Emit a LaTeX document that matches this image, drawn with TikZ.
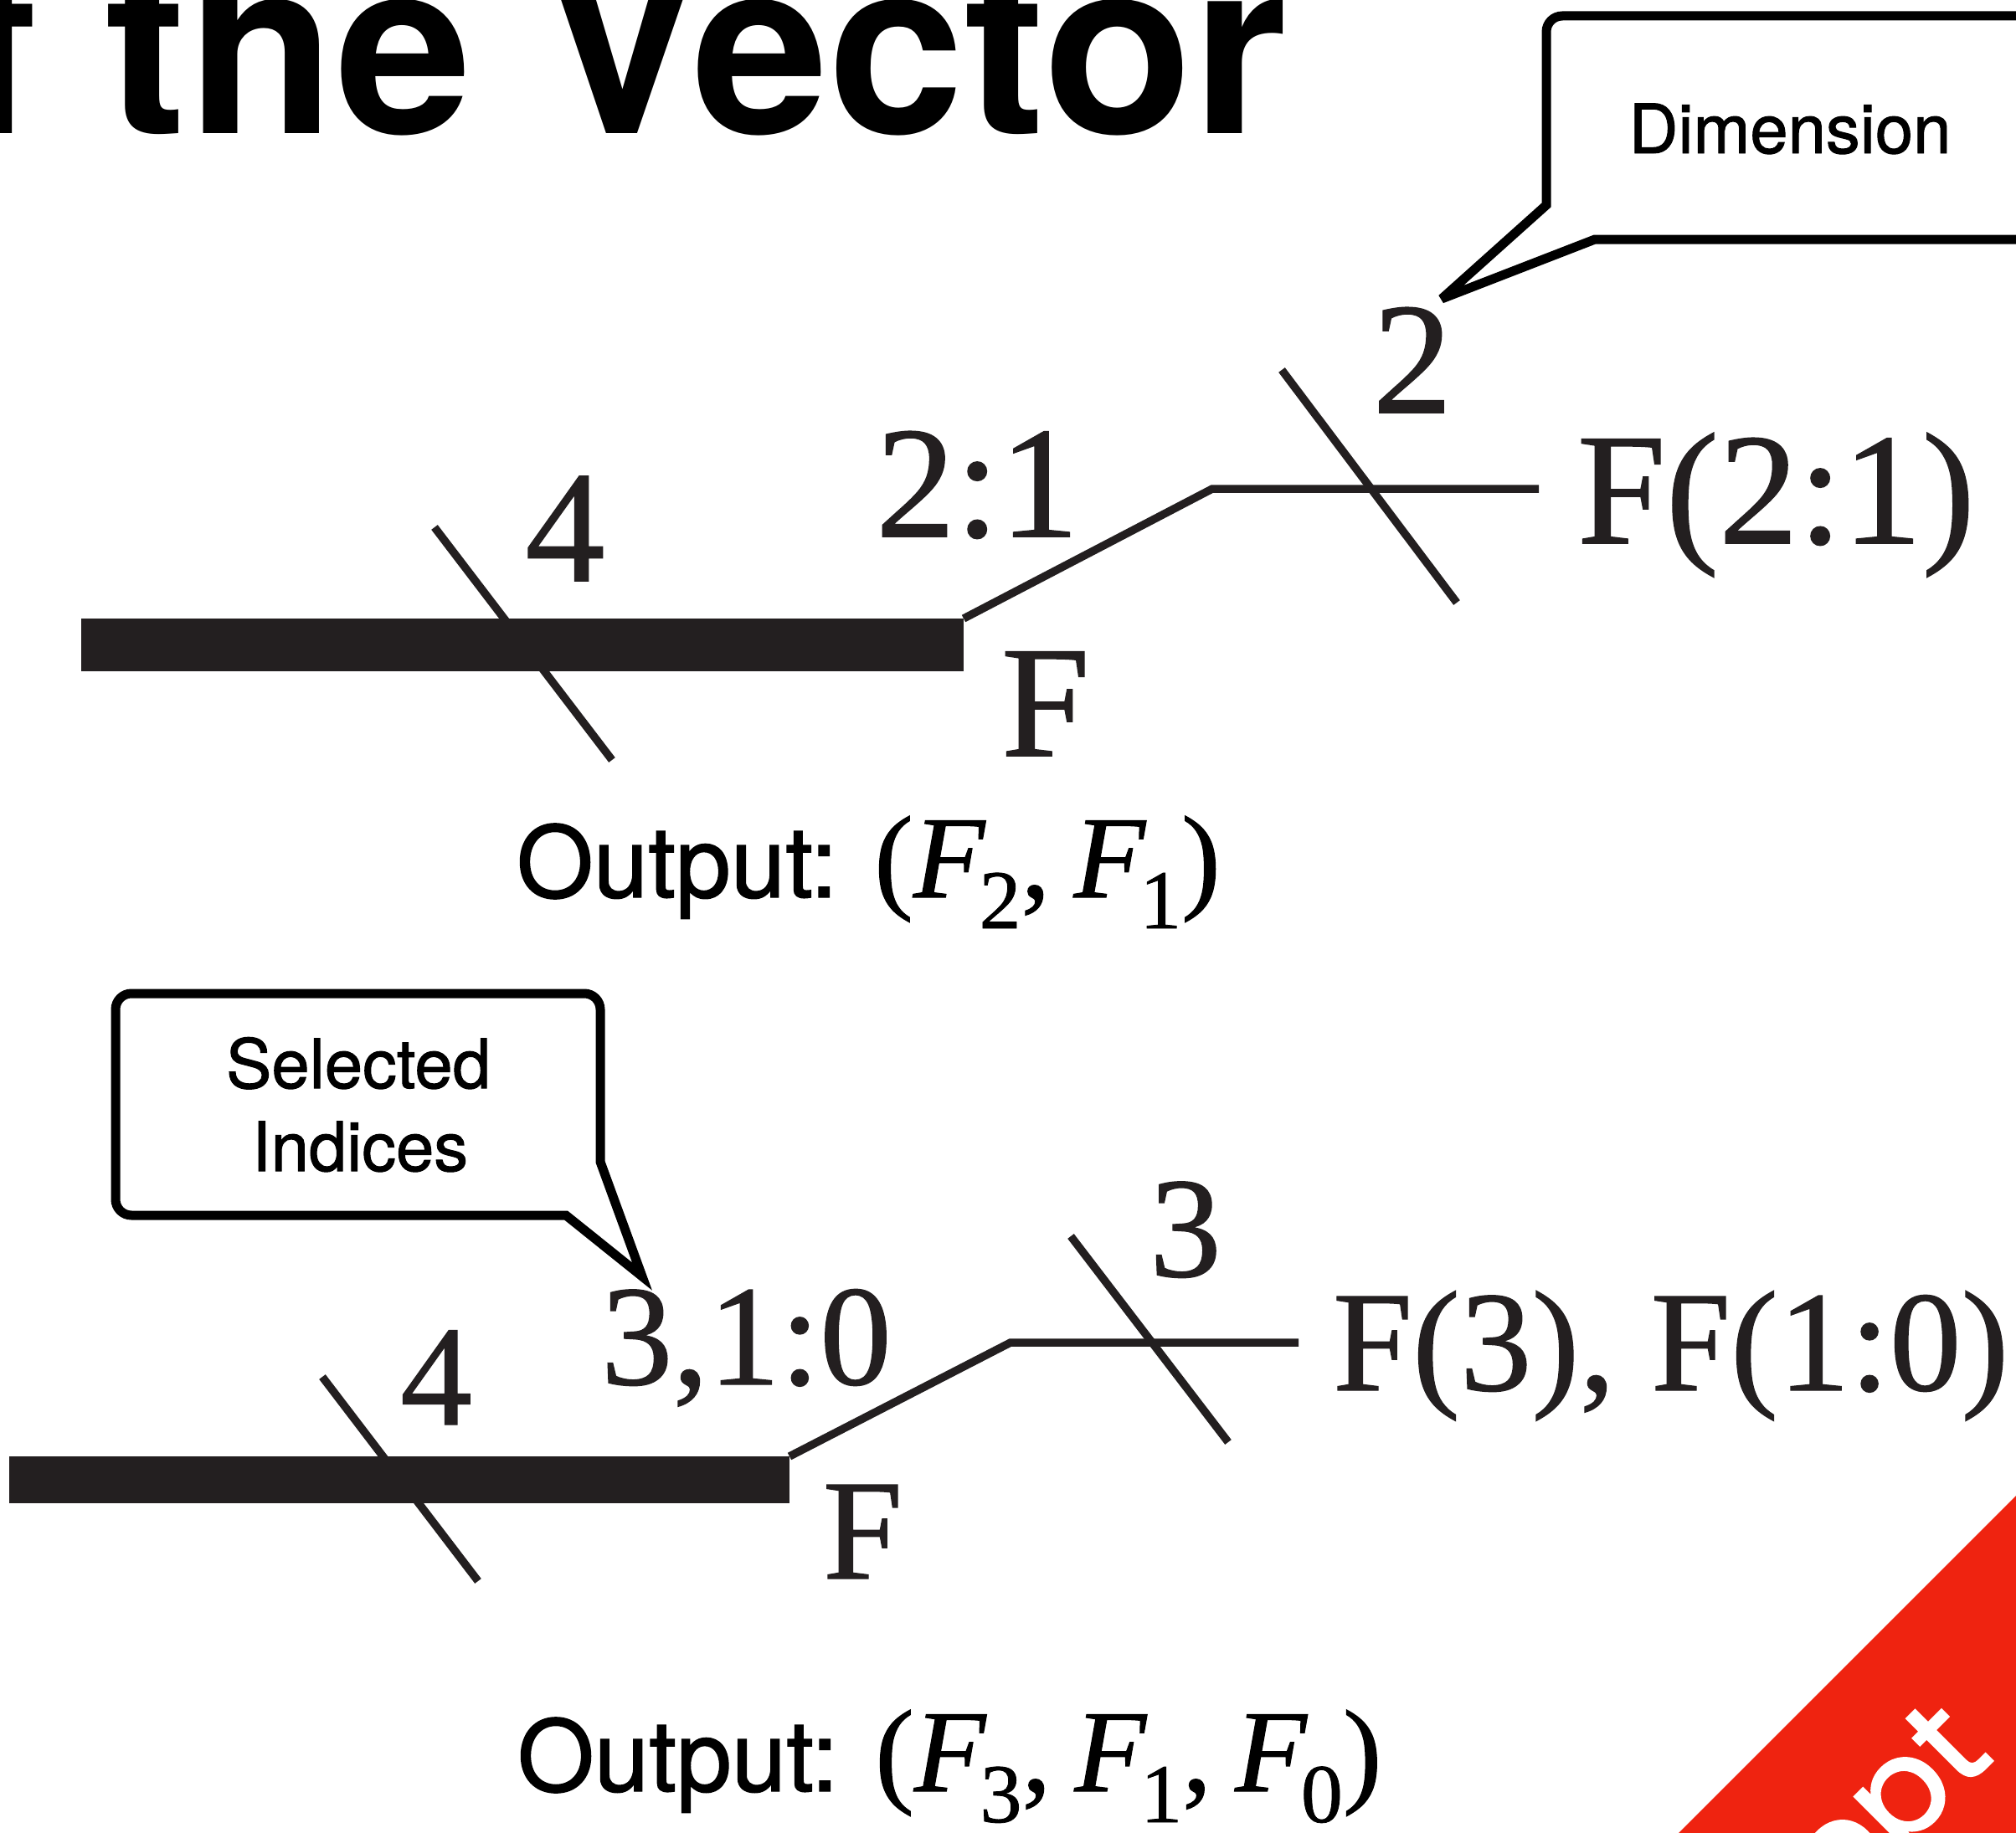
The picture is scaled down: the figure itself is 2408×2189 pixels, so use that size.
\documentclass[tikz,border=0pt]{standalone}
\usepackage{fontspec}
\setmainfont[FakeBold=0.8]{Liberation Serif}
\setsansfont{TeX Gyre Heros}
\newfontfamily\redfont[FakeBold=1.6]{Poppins}
\newfontfamily\calloutfont[FakeBold=1.2]{TeX Gyre Heros}
\definecolor{ink}{HTML}{231F20}
\definecolor{tabred}{RGB}{239,35,16}
\newcommand{\fsz}[1]{\fontsize{#1}{#1}\selectfont}
\newcommand{\mysub}[1]{\raisebox{-37pt}{\fsz{100}#1}}
\begin{document}
\begin{tikzpicture}[x=1pt,y=-1pt,
  lbl/.style={inner sep=0pt, outer sep=0pt, text=ink},
  serifA/.style={lbl, font=\rmfamily\fsz{190}},
  serifB/.style={lbl, font=\rmfamily\fsz{171}},
  outtext/.style={inner sep=0pt, outer sep=0pt, text=black, font=\calloutfont\fsz{118}},
  calltext/.style={inner sep=0pt, outer sep=0pt, text=black, font=\calloutfont\fsz{81.5}},
  bar/.style={fill=ink, draw=none, inner sep=0pt, outer sep=0pt},
  conn/.style={draw=ink, line width=9.5pt, line cap=butt, line join=miter},
  callout/.style={draw=black, line width=11pt, fill=white, line join=miter, miter limit=4},
]
\useasboundingbox (0,0) rectangle (2408,2189);
\fill[white] (0,0) rectangle (2408,2189);

% title
\node[inner sep=0pt, anchor=base east, text=black, font=\sffamily\bfseries\fsz{292}] (title) at (1538,159) {f the Vector};

% Dimension callout
\draw[callout] (2500,286) -- (1905,286) -- (1722,357) -- (1847,245) -- (1847,38)
   .. controls (1847,27.5) and (1855.5,19) .. (1866,19) -- (2500,19) -- cycle;
\node[calltext, anchor=base] (dimtxt) at (2138,183) {Dimension};

% Selected Indices callout
\draw[callout] (676,1452) -- (157,1452) .. controls (146.5,1452) and (138,1443.5) .. (138,1433)
   -- (138,1206) .. controls (138,1195.5) and (146.5,1187) .. (157,1187)
   -- (698,1187) .. controls (708.5,1187) and (717,1195.5) .. (717,1206)
   -- (717,1388) -- (767,1525) -- cycle;
\node[calltext, anchor=base] (seltxt) at (428,1300) {Selected};
\node[calltext, anchor=base] (idxtxt) at (430,1399) {Indices};

% ---------- top diagram ----------
\node[bar, anchor=north west, minimum width=1054pt, minimum height=63pt] (barA) at (97,739) {};
\coordinate (kneeA) at (1448,584);
\coordinate (endA) at (1838,584);
\draw[conn] (barA.north east) -- (kneeA) -- (endA);
\coordinate (sA1) at (519,630);
\coordinate (sA2) at (731,908);
\draw[conn] (sA1) -- (sA2);
\coordinate (sB1) at (1531,442);
\coordinate (sB2) at (1740,720);
\draw[conn] (sB1) -- (sB2);

\node[serifA, anchor=base] (fourA) at (675,694) {4};
\node[serifA, anchor=base west] (rngA) at (1046,641) {2:1};
\node[serifA, anchor=base] (twoA) at (1687,493) {2};
\node[serifA, anchor=base west] (resA) at (1884,649) {F(2:1)};
\node[serifA, anchor=base west] (FA) at (1196,903) {F};
\node[outtext, anchor=base west] (outA) at (617,1072)
  {Output: {\rmfamily\fsz{140}(\textit{F}\kern-8pt\mysub{2},\kern28pt\textit{F}\kern-8pt\mysub{1})}};

% ---------- bottom diagram ----------
\node[bar, anchor=north west, minimum width=932pt, minimum height=56pt] (barB) at (11,1740) {};
\coordinate (kneeB) at (1207,1604);
\coordinate (endB) at (1551,1604);
\draw[conn] (barB.north east) -- (kneeB) -- (endB);
\coordinate (tA1) at (385,1645);
\coordinate (tA2) at (571,1889);
\draw[conn] (tA1) -- (tA2);
\coordinate (tB1) at (1279,1477);
\coordinate (tB2) at (1467,1723);
\draw[conn] (tB1) -- (tB2);

\node[serifB, anchor=base] (fourB) at (521,1702) {4};
\node[serifB, anchor=base west] (rngB) at (718,1654) {3,1:0};
\node[serifB, anchor=base] (threeB) at (1416,1525) {3};
\node[serifB, anchor=base west] (resB) at (1592,1661) {F(3), F(1:0)};
\node[serifB, anchor=base west] (FB) at (983,1886) {F};
\node[outtext, anchor=base west] (outB) at (618,2140)
  {Output: {\rmfamily\fsz{140}(\textit{F}\kern-8pt\mysub{3},\kern28pt\textit{F}\kern-8pt\mysub{1},\kern28pt\textit{F}\kern-8pt\mysub{0})}};

% red corner
\fill[tabred] (2600,1595) -- (2600,2400) -- (1795,2400) -- cycle;
\node[rotate=45, anchor=base east, inner sep=0pt, text=white, font=\redfont\fsz{158}] (redtxt) at (2384,2100) {ept};
\end{tikzpicture}
\end{document}
